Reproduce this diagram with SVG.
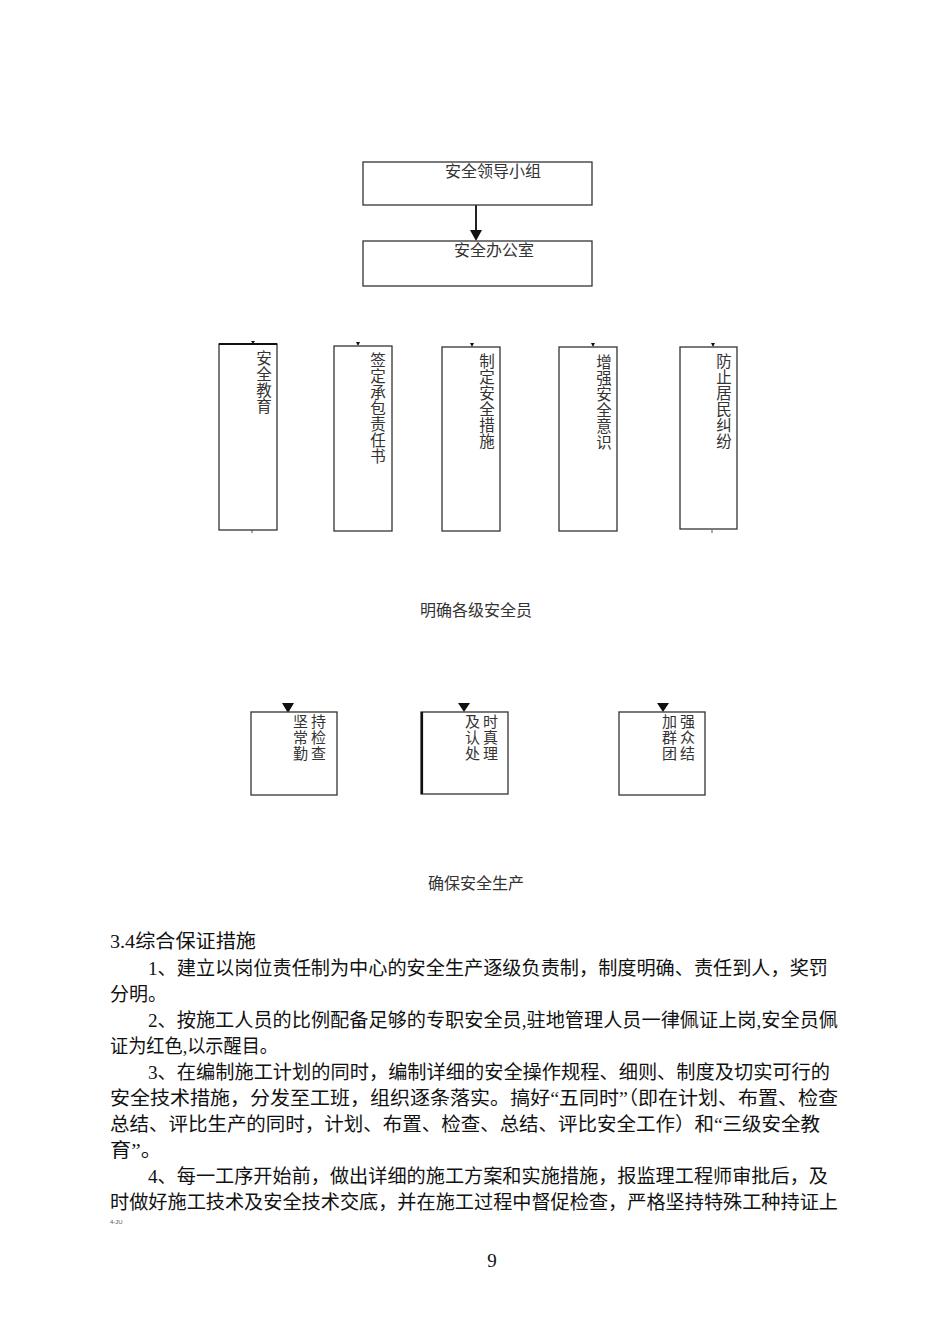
<svg xmlns="http://www.w3.org/2000/svg" width="950" height="1344" viewBox="0 0 950 1344">
<defs>
<style>
.box{fill:#fff;stroke:#333;stroke-width:1.3}
.lbl{font-family:"Noto Sans CJK SC","Liberation Sans",sans-serif;font-size:16px;fill:#333}
.sm{font-family:"Noto Sans CJK SC","Liberation Sans",sans-serif;font-size:15px;fill:#333}
.vt{font-family:"Noto Sans CJK SC","Liberation Sans",sans-serif;font-size:15.5px;fill:#333;text-anchor:middle}
.body{font-family:"Liberation Serif","Noto Sans CJK SC",serif;font-size:19px;fill:#111}
.conn{stroke:#222;stroke-width:2;fill:none}
.tip{fill:#111}
</style>
</defs>
<rect width="950" height="1344" fill="#fff"/>

<g id="connectors">
<line class="conn" x1="476" y1="205" x2="476" y2="231"/>
<polygon class="tip" points="470,230 482,230 476,241"/>
<polygon class="tip" points="251,341 255,341 253,344"/>
<polygon class="tip" points="356,342 360,342 358,346"/>
<polygon class="tip" points="470,343 474,343 472,347"/>
<polygon class="tip" points="591,343 595,343 593,347"/>
<polygon class="tip" points="711,343 715,343 713,347"/>
<line x1="252" y1="530" x2="252" y2="533" stroke="#555" stroke-width="1"/>
<line x1="712" y1="530" x2="712" y2="533" stroke="#555" stroke-width="1"/>
<polygon class="tip" points="282,703 294,703 288,713"/>
<polygon class="tip" points="458,703 470,703 464,712"/>
<polygon class="tip" points="657,703 669,703 663,712"/>
</g>

<g id="n-leader">
<rect class="box" x="363" y="162" width="229" height="43"/>
<text class="lbl" x="445" y="177">安全领导小组</text>
</g>
<g id="n-office">
<rect class="box" x="363" y="241" width="229" height="45"/>
<text class="lbl" x="454" y="256">安全办公室</text>
</g>

<g id="n-edu">
<rect class="box" x="219" y="344" width="58" height="186"/>
<line x1="219" y1="344" x2="277" y2="344" stroke="#111" stroke-width="2"/>
<text class="vt"><tspan x="264" y="364">安</tspan><tspan x="264" y="380">全</tspan><tspan x="264" y="396">教</tspan><tspan x="264" y="412">育</tspan></text>
</g>
<g id="n-contract">
<rect class="box" x="334" y="346" width="58" height="185"/>
<text class="vt"><tspan x="378" y="366">签</tspan><tspan x="378" y="382">定</tspan><tspan x="378" y="398">承</tspan><tspan x="378" y="414">包</tspan><tspan x="378" y="430">责</tspan><tspan x="378" y="446">任</tspan><tspan x="378" y="462">书</tspan></text>
</g>
<g id="n-measures">
<rect class="box" x="442" y="347" width="58" height="184"/>
<text class="vt"><tspan x="487" y="367">制</tspan><tspan x="487" y="383">定</tspan><tspan x="487" y="399">安</tspan><tspan x="487" y="415">全</tspan><tspan x="487" y="431">措</tspan><tspan x="487" y="447">施</tspan></text>
</g>
<g id="n-awareness">
<rect class="box" x="559" y="347" width="58" height="184"/>
<text class="vt"><tspan x="604" y="368">增</tspan><tspan x="604" y="384">强</tspan><tspan x="604" y="400">安</tspan><tspan x="604" y="416">全</tspan><tspan x="604" y="432">意</tspan><tspan x="604" y="448">识</tspan></text>
</g>
<g id="n-dispute">
<rect class="box" x="680" y="347" width="57" height="182"/>
<text class="vt"><tspan x="724" y="367">防</tspan><tspan x="724" y="383">止</tspan><tspan x="724" y="399">居</tspan><tspan x="724" y="415">民</tspan><tspan x="724" y="431">纠</tspan><tspan x="724" y="447">纷</tspan></text>
</g>

<g id="n-officers">
<text class="lbl" x="420" y="616">明确各级安全员</text>
</g>

<g id="n-check">
<rect class="box" x="251" y="712" width="86" height="83"/>
<text class="sm"><tspan x="293" y="727" textLength="33">坚持</tspan><tspan x="293" y="743" textLength="33">常检</tspan><tspan x="293" y="759" textLength="33">勤查</tspan></text>
</g>
<g id="n-handle">
<rect class="box" x="421" y="712" width="87" height="82"/>
<line x1="422" y1="712" x2="422" y2="794" stroke="#111" stroke-width="2.2"/>
<text class="sm"><tspan x="465" y="727" textLength="33">及时</tspan><tspan x="465" y="743" textLength="33">认真</tspan><tspan x="465" y="759" textLength="33">处理</tspan></text>
</g>
<g id="n-unite">
<rect class="box" x="619" y="712" width="86" height="83"/>
<text class="sm"><tspan x="662" y="727" textLength="33">加强</tspan><tspan x="662" y="743" textLength="33">群众</tspan><tspan x="662" y="759" textLength="33">团结</tspan></text>
</g>

<g id="n-ensure">
<text class="lbl" x="428" y="889">确保安全生产</text>
</g>

<g id="body">
<text class="body" x="110" y="948" textLength="146" lengthAdjust="spacingAndGlyphs">3.4综合保证措施</text>
<text class="body" x="148" y="975" textLength="680" lengthAdjust="spacingAndGlyphs">1、建立以岗位责任制为中心的安全生产逐级负责制，制度明确、责任到人，奖罚</text>
<text class="body" x="110" y="1001">分明。</text>
<text class="body" x="148" y="1027" textLength="690" lengthAdjust="spacingAndGlyphs">2、按施工人员的比例配备足够的专职安全员,驻地管理人员一律佩证上岗,安全员佩</text>
<text class="body" x="110" y="1053" textLength="168" lengthAdjust="spacingAndGlyphs">证为红色,以示醒目。</text>
<text class="body" x="148" y="1079" textLength="682" lengthAdjust="spacingAndGlyphs">3、在编制施工计划的同时，编制详细的安全操作规程、细则、制度及切实可行的</text>
<text class="body" x="110" y="1105" textLength="728" lengthAdjust="spacingAndGlyphs">安全技术措施，分发至工班，组织逐条落实。搞好“五同时”（即在计划、布置、检查</text>
<text class="body" x="110" y="1131" textLength="710" lengthAdjust="spacingAndGlyphs">总结、评比生产的同时，计划、布置、检查、总结、评比安全工作）和“三级安全教</text>
<text class="body" x="110" y="1157" textLength="52" lengthAdjust="spacingAndGlyphs">育”。</text>
<text class="body" x="148" y="1183" textLength="680" lengthAdjust="spacingAndGlyphs">4、每一工序开始前，做出详细的施工方案和实施措施，报监理工程师审批后，及</text>
<text class="body" x="110" y="1209" textLength="728" lengthAdjust="spacingAndGlyphs">时做好施工技术及安全技术交底，并在施工过程中督促检查，严格坚持特殊工种持证上</text>
<text x="110" y="1224" font-family="Liberation Sans, sans-serif" font-size="6" fill="#555">4-JU</text>
<text x="492" y="1267" font-family="Liberation Serif, serif" font-size="19" fill="#111" text-anchor="middle">9</text>
</g>
</svg>
